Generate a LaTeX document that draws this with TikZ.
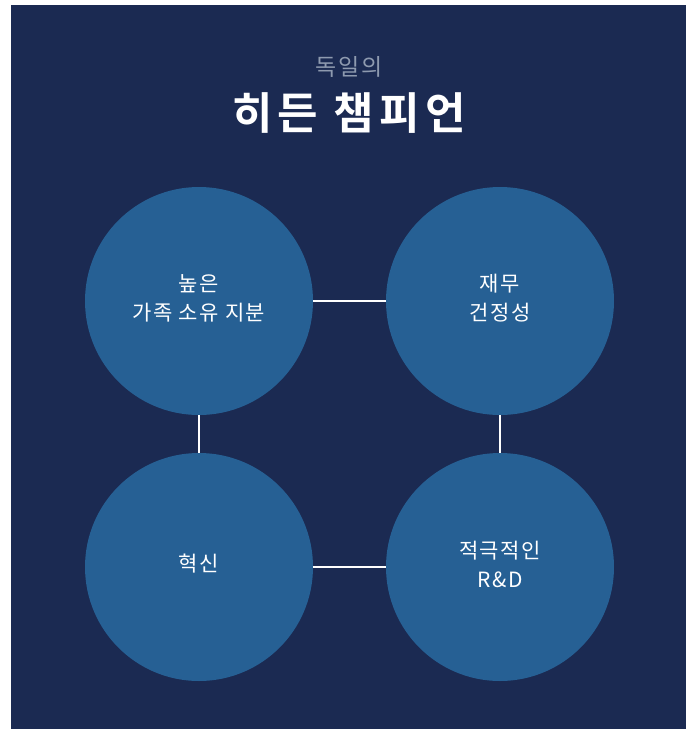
\documentclass[tikz,border=0pt]{standalone}
\usepackage{fontspec}
\newfontfamily\kr{Noto Sans CJK KR}
\newfontfamily\krb{Noto Sans CJK KR Bold}
\definecolor{bgnavy}{HTML}{1B2A52}
\definecolor{circblue}{HTML}{266094}
\definecolor{subgray}{HTML}{8E9AAF}
\tikzset{
  x=1pt,y=-1pt,
  pillar/.style={circle, fill=circblue, minimum size=228pt, inner sep=0pt},
  pillartext/.style={text=white, align=center, yshift=3pt, font=\kr\fontsize{21}{29}\selectfont\addfontfeatures{LetterSpace=7}},
  link/.style={draw=white, line width=2pt}
}
\begin{document}
\begin{tikzpicture}
\useasboundingbox (0,0) rectangle (693,729);
\fill[bgnavy] (11,5) rectangle (686,729);
\node[font=\kr\fontsize{23}{28}\selectfont\addfontfeatures{LetterSpace=9}, text=subgray] (sub) at (349,67) {독일의};
\node[font=\krb\fontsize{44}{52}\selectfont\addfontfeatures{LetterSpace=12}, text=white] (title) at (349,113) {히든 챔피언};
\node[pillar, label={[pillartext]center:높은\\가족 소유 지분}] (own) at (199,301) {};
\node[pillar, label={[pillartext]center:재무\\건정성}] (fin) at (500,301) {};
\node[pillar, label={[pillartext]center:혁신}] (inn) at (199,567) {};
\node[pillar, label={[pillartext]center:적극적인\\R\&D}] (rd) at (500,567) {};
\draw[link] (own) -- (fin);
\draw[link] (own) -- (inn);
\draw[link] (fin) -- (rd);
\draw[link] (inn) -- (rd);
\end{tikzpicture}
\end{document}
